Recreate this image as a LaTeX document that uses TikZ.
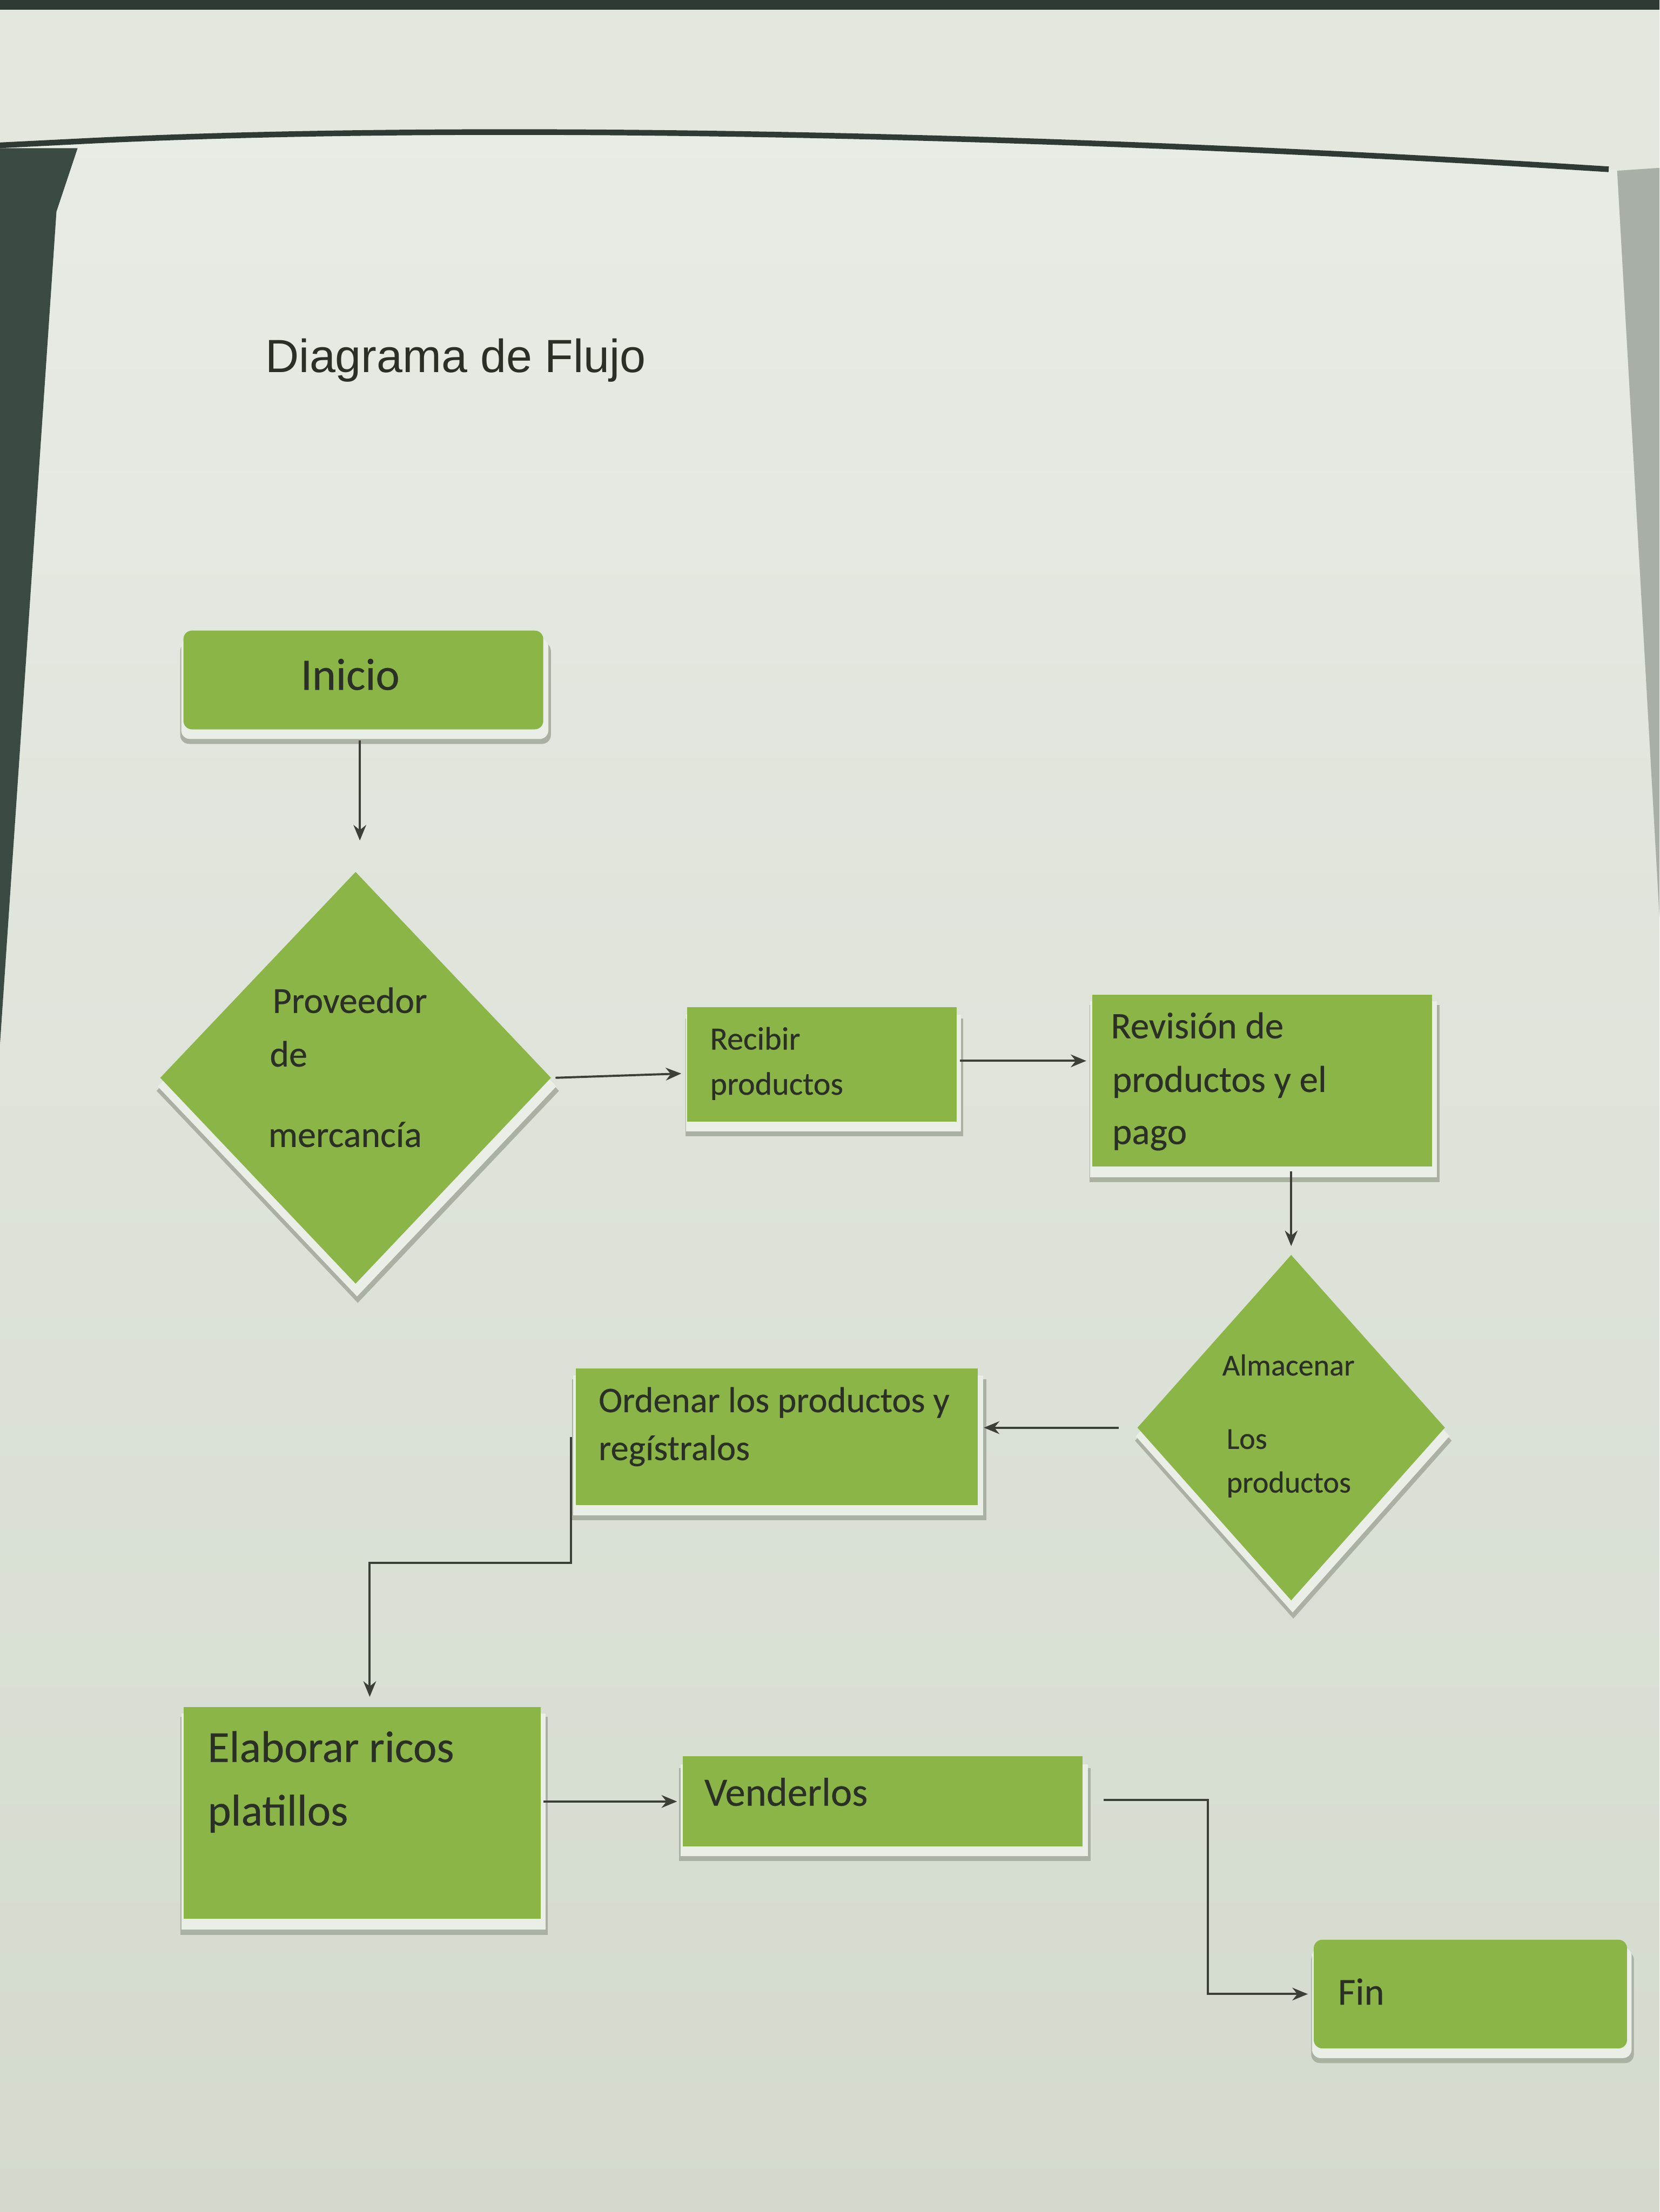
\documentclass[tikz,border=0pt]{standalone}
\usepackage{fontspec}
\setmainfont{Carlito}[FakeBold=0.35]
\newfontfamily\titlefont{Liberation Sans}
\usetikzlibrary{shapes.geometric,shadows,arrows.meta}
\definecolor{boxgreen}{HTML}{8CB548}
\definecolor{shadowgrey}{HTML}{A9B1A3}
\definecolor{shadowlight}{HTML}{E9EEE6}
\definecolor{papertop}{HTML}{E8EDE6}
\definecolor{paperbot}{HTML}{D3DACD}
\definecolor{sheettop}{HTML}{E3E7DD}
\definecolor{darkedge}{HTML}{2F3A35}
\definecolor{leftdark}{HTML}{3B4A43}
\definecolor{sleeve}{HTML}{A8AFA7}
\definecolor{inkcol}{HTML}{2A3026}
\definecolor{linecol}{HTML}{3A3F38}
\begin{document}
\begin{tikzpicture}[x=1pt,y=-1pt,
  greenbox/.style={draw=none,fill=boxgreen,inner sep=0pt,
    general shadow={shadow scale=1.03,shadow xshift=1.5pt,shadow yshift=-9pt,fill=shadowgrey},
    general shadow={shadow scale=1.02,shadow xshift=1pt,shadow yshift=-6pt,fill=shadowlight}},
  rectbox/.style={greenbox,rectangle},
  roundbox/.style={greenbox,rectangle,rounded corners=6pt},
  diabox/.style={greenbox,diamond},
  txt/.style={anchor=base west,inner sep=0pt,text=inkcol},
  arr/.style={draw=linecol,line width=1.5pt,-{Stealth[length=11pt,width=9pt]}}]
\useasboundingbox (0,0) rectangle (1176,1568);
% paper background
\shade[top color=papertop,bottom color=paperbot] (0,0) rectangle (1176,1568);
% sheet above the page
\fill[sheettop] (0,0) -- (1176,0) -- (1176,122) -- (1140,120)
  .. controls (700,92) and (300,88) .. (60,100) -- (0,103) -- cycle;
\fill[darkedge] (0,0) rectangle (1176,7);
% left dark wedge
\fill[leftdark] (0,105) -- (55,105) -- (40,150) -- (0,740) -- cycle;
% right sleeve
\fill[sleeve] (1146,121) -- (1176,119) -- (1176,650) -- cycle;
% top edge of the page
\draw[darkedge,line width=4pt] (0,103) -- (60,100)
  .. controls (300,88) and (700,92) .. (1140,120);
% title
\node[txt,font=\titlefont\fontsize{33}{38}\selectfont] (title) at (188,264) {Diagrama de Flujo};
% shapes
\node[roundbox,minimum width=255pt,minimum height=70pt] (inicio) at (257.5,482) {};
\node[diabox,minimum width=277pt,minimum height=292pt] (prov) at (252,764) {};
\node[rectbox,minimum width=191pt,minimum height=81pt] (recibir) at (582.5,754.5) {};
\node[rectbox,minimum width=241pt,minimum height=122pt] (revision) at (894.5,766) {};
\node[diabox,minimum width=218pt,minimum height=245pt] (alm) at (915,1012) {};
\node[rectbox,minimum width=285pt,minimum height=97pt] (ordenar) at (550.5,1018.5) {};
\node[rectbox,minimum width=253pt,minimum height=150pt] (elaborar) at (256.5,1285) {};
\node[rectbox,minimum width=283pt,minimum height=64pt] (venderlos) at (625.5,1277) {};
\node[roundbox,minimum width=222pt,minimum height=77pt] (fin) at (1042,1413.5) {};
% texts
\node[txt,font=\fontsize{32}{36}\selectfont] (tinicio) at (213,489) {Inicio};
\node[txt,font=\fontsize{26}{30}\selectfont] (tprov1) at (193,718) {Proveedor};
\node[txt,font=\fontsize{26}{30}\selectfont] (tprov2) at (191,756) {de};
\node[txt,font=\fontsize{26}{30}\selectfont] (tprov3) at (190,813) {mercancía};
\node[txt,font=\fontsize{23}{27}\selectfont] (trec1) at (503,744) {Recibir};
\node[txt,font=\fontsize{23}{27}\selectfont] (trec2) at (503,776) {productos};
\node[txt,font=\fontsize{26.5}{30}\selectfont] (trev1) at (787,736) {Revisión de};
\node[txt,font=\fontsize{26.5}{30}\selectfont] (trev2) at (788,774) {productos y el};
\node[txt,font=\fontsize{26.5}{30}\selectfont] (trev3) at (788,811) {pago};
\node[txt,font=\fontsize{21.5}{26}\selectfont] (talm1) at (866,975) {Almacenar};
\node[txt,font=\fontsize{21.5}{26}\selectfont] (talm2) at (869,1027) {Los};
\node[txt,font=\fontsize{21.5}{26}\selectfont] (talm3) at (869,1058) {productos};
\node[txt,font=\fontsize{25.5}{30}\selectfont] (tord1) at (424,1001) {Ordenar los productos y};
\node[txt,font=\fontsize{25.5}{30}\selectfont] (tord2) at (424,1035) {regístralos};
\node[txt,font=\fontsize{31.5}{36}\selectfont] (telab1) at (147,1249) {Elaborar ricos};
\node[txt,font=\fontsize{31.5}{36}\selectfont] (telab2) at (147,1294) {platillos};
\node[txt,font=\fontsize{28.5}{33}\selectfont] (tvend) at (499,1280) {Venderlos};
\node[txt,font=\fontsize{27}{32}\selectfont] (tfin) at (948,1421) {Fin};
% connectors
\coordinate (c1) at (255,517);
\draw[arr] ([yshift=-8pt]c1) -- ([yshift=22pt]c1 |- prov.north);
\draw[arr] ([xshift=3pt]prov.east) -- ([xshift=-4pt]recibir.west |- 0,761);
\draw[arr] ([xshift=2pt]recibir.east |- 0,752) -- ([xshift=-4pt]revision.west |- 0,752);
\draw[arr] ([yshift=-3pt]revision.south -| alm.north) -- ([yshift=6pt]alm.north);
\draw[arr] ([xshift=-13pt]alm.west) -- ([xshift=4pt]ordenar.east |- alm.west);
\coordinate (c6) at (262,1108);
\draw[arr] ([xshift=-3pt]ordenar.west) |- (c6) -- ([yshift=7pt]c6 |- elaborar.north);
\draw[arr] ([xshift=2pt]elaborar.east |- venderlos.west) -- ([xshift=-4pt]venderlos.west);
\coordinate (c8) at (856,1276);
\draw[arr] ([xshift=15pt]venderlos.east |- c8) -- (c8) |- ([xshift=-4pt]fin.west);
\end{tikzpicture}
\end{document}
